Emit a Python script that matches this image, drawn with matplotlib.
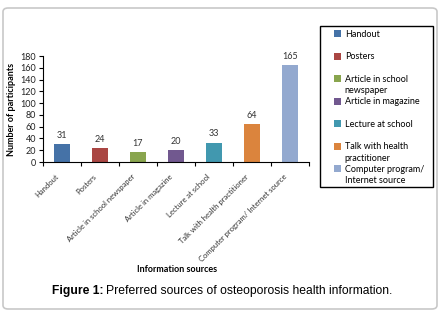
import matplotlib
matplotlib.use('Agg')
import matplotlib.pyplot as plt
import matplotlib.transforms as mtransforms
from matplotlib.patches import FancyBboxPatch, Patch, Rectangle
import numpy as np

categories = ['Handout', 'Posters', 'Article in school newspaper', 'Article in magazine',
              'Lecture at school', 'Talk with health practitioner',
              'Computer program/ Internet source']
legend_labels = ['Handout', 'Posters', 'Article in school\nnewspaper', 'Article in magazine',
                 'Lecture at school', 'Talk with health\npractitioner',
                 'Computer program/\nInternet source']
counts = [31, 24, 17, 20, 33, 64, 165]
colors = ['#4572A7', '#AA4643', '#89A54E', '#71588F', '#4198AF', '#DB843D', '#93A9CF']

plt.rcParams['font.family'] = ['Lato', 'DejaVu Sans']

fig = plt.figure(figsize=(4.39, 3.12), dpi=100)

# outer rounded frame
frame = FancyBboxPatch((3 / 439, 3 / 312), 434 / 439, 301 / 312,
                       boxstyle='round,pad=0,rounding_size=0.012',
                       transform=fig.transFigure, fill=False,
                       edgecolor='#c8c8c8', linewidth=1.2)
fig.patches.append(frame)

ax = fig.add_axes([43 / 439, 150 / 312, 266 / 439, 106 / 312])
x = np.arange(len(categories))
ax.bar(x, counts, width=0.42, color=colors)
for xi, v in zip(x, counts):
    ax.text(xi, v + 7, str(v), ha='center', va='bottom', fontsize=6.5, color='#333333')

ax.set_xlim(-0.5, len(categories) - 0.5)
ax.set_ylim(0, 180)
ax.set_yticks(range(0, 181, 20))
ax.tick_params(axis='y', labelsize=6.5, length=3, width=0.8, pad=2, labelcolor='#222222')
ax.set_xticks(x)
ax.set_xticklabels(categories, rotation=45, ha='right', rotation_mode='anchor',
                   fontsize=5.5, color='#333333')
ax.tick_params(axis='x', which='major', length=0, pad=8)
shift = mtransforms.ScaledTranslation(-7 / 100, 0, fig.dpi_scale_trans)
for lab in ax.get_xticklabels():
    lab.set_transform(lab.get_transform() + shift)
ax.set_xticks(np.arange(-0.5, len(categories), 1), minor=True)
ax.tick_params(axis='x', which='minor', length=3, width=0.8)
for s in ['top', 'right']:
    ax.spines[s].set_visible(False)
ax.spines['left'].set_linewidth(0.8)
ax.spines['bottom'].set_linewidth(0.8)

ax.set_ylabel('Number of participants', fontsize=6.5, fontweight='bold', labelpad=3)
fig.text(177 / 439, 1 - 270 / 312, 'Information sources', ha='center', va='center',
         fontsize=6.5, fontweight='bold')

# legend: one row per text line, entries take two rows each
handles, rows = [], []
for c, lab in zip(colors, legend_labels):
    lines = (lab.split('\n') + [' '])[:2]
    handles.append(Patch(facecolor=c))
    rows.append(lines[0])
    handles.append(Patch(facecolor='none', edgecolor='none'))
    rows.append(lines[1])
fig.legend(handles, rows, loc='upper left',
           bbox_to_anchor=(332 / 439, 1 - 28 / 312), fontsize=6.5,
           frameon=False, handlelength=0.8, handleheight=0.8, handletextpad=0.4,
           labelspacing=0.25, borderpad=0.2, borderaxespad=0)
fig.patches.append(Rectangle((320 / 439, 1 - 187 / 312), 113 / 439, 161 / 312,
                             transform=fig.transFigure, fill=False,
                             edgecolor='black', linewidth=1.0))

t1 = fig.text(52 / 439, 1 - 291 / 312, 'Figure 1:', ha='left', va='center', fontsize=8.7,
              fontweight='bold', family='Liberation Sans')
fig.canvas.draw()
bb = t1.get_window_extent()
fig.text((bb.x1 + 3) / 439, 1 - 291 / 312,
         'Preferred sources of osteoporosis health information.',
         ha='left', va='center', fontsize=8.7, family='Liberation Sans')

fig.savefig('out.png', dpi=100)
